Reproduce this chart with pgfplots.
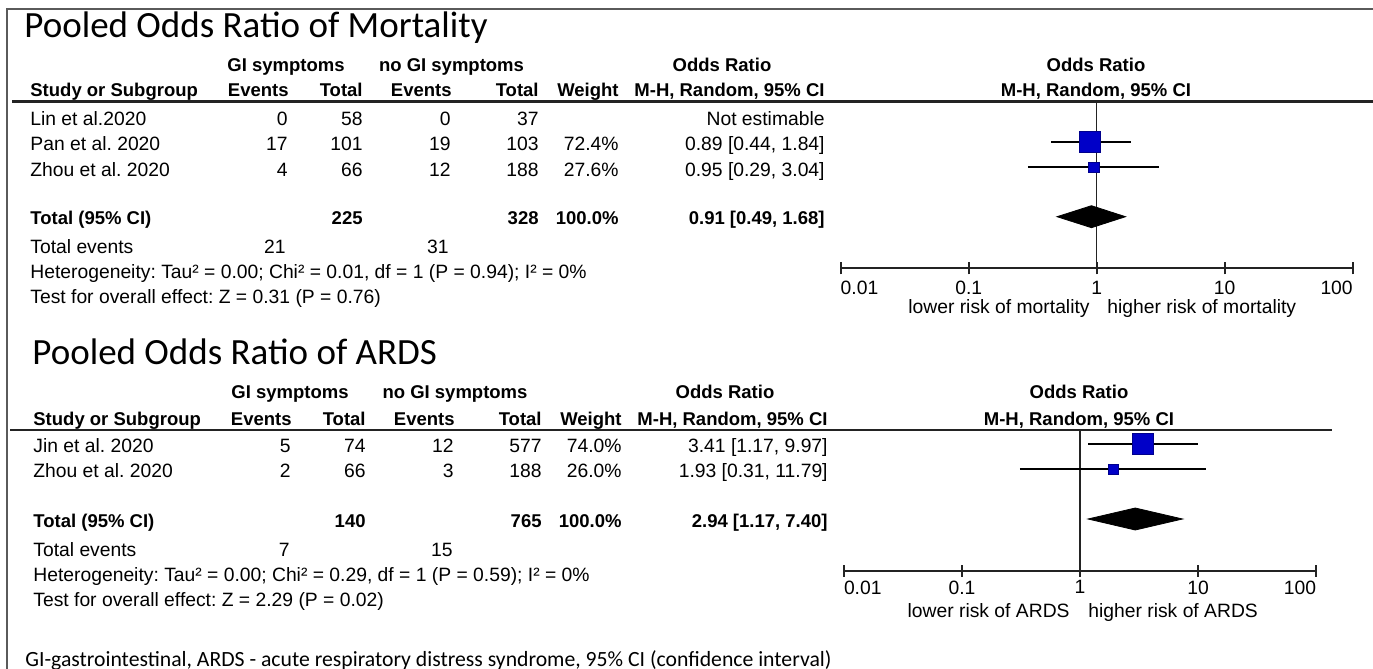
\documentclass[border=0pt]{standalone}
\usepackage{fontspec}
\setmainfont{Liberation Sans}
\newfontfamily\calibri{Carlito}
\usepackage{pgfplots}
\pgfplotsset{compat=1.18}
\definecolor{sqblue}{RGB}{0,0,200}
\definecolor{linegray}{RGB}{35,35,35}
\definecolor{framegray}{RGB}{90,90,90}
\frenchspacing
\newcommand{\tf}{\fontsize{9.65}{11}\selectfont}
\newcommand{\tb}{\fontsize{9.25}{11}\selectfont\bfseries}
\newcommand{\ttl}{\fontsize{18.5}{20}\calibri\selectfont}
\newcommand{\ftr}{\fontsize{10.85}{12}\calibri\selectfont}
\tikzset{
  tW/.style={inner sep=0pt, anchor=base west, font=\tf},
  tE/.style={inner sep=0pt, anchor=base east, font=\tf},
  tWB/.style={inner sep=0pt, anchor=base west, font=\tb},
  tEB/.style={inner sep=0pt, anchor=base east, font=\tb},
  tCB/.style={inner sep=0pt, anchor=base, font=\tb},
}
\begin{document}
\begin{tikzpicture}
\begin{scope}[x=0.5pt,y=0.5pt]
\useasboundingbox (0,0) rectangle (1373,-669);
% frame
\draw[line width=1.25pt, framegray] (7,-669) -- (7,-9) -- (1373,-9);

%================ TOP PANEL =================
\node[inner sep=0pt, anchor=base west, font=\ttl] at (24,-37.5) {Pooled Odds Ratio of Mortality};
\node[tCB] at (286,-71) {GI symptoms};
\node[tCB] at (451.5,-71) {no GI symptoms};
\node[tCB] at (722,-71) {Odds Ratio};
\node[tCB] at (1096,-71) {Odds Ratio};
\node[tWB] at (30,-97) {Study or Subgroup};
\node[tEB] at (289,-97) {Events};
\node[tEB] at (363,-97) {Total};
\node[tEB] at (452,-97) {Events};
\node[tEB] at (539,-97) {Total};
\node[tEB] at (619,-97) {Weight};
\node[tEB] at (825,-97) {M-H, Random, 95\% CI};
\node[tCB] at (1096,-97) {M-H, Random, 95\% CI};
\draw[line width=1.25pt, linegray] (12,-101.7) -- (1373,-101.7);

\node[tW] at (30,-125) {Lin et al.2020};
\node[tE] at (288,-125) {0};
\node[tE] at (363,-125) {58};
\node[tE] at (451,-125) {0};
\node[tE] at (539,-125) {37};
\node[tE] at (825,-125) {Not estimable};

\node[tW] at (30,-150.5) {Pan et al. 2020};
\node[tE] at (288,-150.5) {17};
\node[tE] at (363,-150.5) {101};
\node[tE] at (451,-150.5) {19};
\node[tE] at (539,-150.5) {103};
\node[tE] at (619,-150.5) {72.4\%};
\node[tE] at (825,-150.5) {0.89 [0.44, 1.84]};

\node[tW] at (30,-176) {Zhou et al. 2020};
\node[tE] at (288,-176) {4};
\node[tE] at (363,-176) {66};
\node[tE] at (451,-176) {12};
\node[tE] at (539,-176) {188};
\node[tE] at (619,-176) {27.6\%};
\node[tE] at (825,-176) {0.95 [0.29, 3.04]};

\node[tWB] at (30,-224) {Total (95\% CI)};
\node[tEB] at (363,-224) {225};
\node[tEB] at (539,-224) {328};
\node[tEB] at (619,-224) {100.0\%};
\node[tEB] at (825,-224) {0.91 [0.49, 1.68]};

\node[tW] at (30,-253.5) {Total events};
\node[tE] at (286,-253.5) {21};
\node[tE] at (449,-253.5) {31};
\node[tW] at (30,-278.5) {Heterogeneity: Tau² = 0.00; Chi² = 0.01, df = 1 (P = 0.94); I² = 0\%};
\node[tW] at (30,-303.5) {Test for overall effect: Z = 0.31 (P = 0.76)};

\node[tE] at (1090,-313) {lower risk of mortality};
\node[tW] at (1107,-313) {higher risk of mortality};

%================ BOTTOM PANEL =================
\node[inner sep=0pt, anchor=base west, font=\ttl] at (32,-364) {Pooled Odds Ratio of ARDS};
\node[tCB] at (290,-398.5) {GI symptoms};
\node[tCB] at (455,-398.5) {no GI symptoms};
\node[tCB] at (725,-398.5) {Odds Ratio};
\node[tCB] at (1079,-398.5) {Odds Ratio};
\node[tWB] at (33,-425) {Study or Subgroup};
\node[tEB] at (292,-425) {Events};
\node[tEB] at (366,-425) {Total};
\node[tEB] at (455,-425) {Events};
\node[tEB] at (542,-425) {Total};
\node[tEB] at (622,-425) {Weight};
\node[tEB] at (828,-425) {M-H, Random, 95\% CI};
\node[tCB] at (1079,-425) {M-H, Random, 95\% CI};
\draw[line width=1.25pt, linegray] (10,-430) -- (1332,-430);

\node[tW] at (33,-452) {Jin et al. 2020};
\node[tE] at (291,-452) {5};
\node[tE] at (366,-452) {74};
\node[tE] at (454,-452) {12};
\node[tE] at (542,-452) {577};
\node[tE] at (622,-452) {74.0\%};
\node[tE] at (828,-452) {3.41 [1.17, 9.97]};

\node[tW] at (33,-477.5) {Zhou et al. 2020};
\node[tE] at (291,-477.5) {2};
\node[tE] at (366,-477.5) {66};
\node[tE] at (454,-477.5) {3};
\node[tE] at (542,-477.5) {188};
\node[tE] at (622,-477.5) {26.0\%};
\node[tE] at (828,-477.5) {1.93 [0.31, 11.79]};

\node[tWB] at (33,-527) {Total (95\% CI)};
\node[tEB] at (366,-527) {140};
\node[tEB] at (542,-527) {765};
\node[tEB] at (622,-527) {100.0\%};
\node[tEB] at (828,-527) {2.94 [1.17, 7.40]};

\node[tW] at (33,-556.5) {Total events};
\node[tE] at (290,-556.5) {7};
\node[tE] at (453,-556.5) {15};
\node[tW] at (33,-581.5) {Heterogeneity: Tau² = 0.00; Chi² = 0.29, df = 1 (P = 0.59); I² = 0\%};
\node[tW] at (33,-606.5) {Test for overall effect: Z = 2.29 (P = 0.02)};

\node[tE] at (1070,-617) {lower risk of ARDS};
\node[tW] at (1088,-617) {higher risk of ARDS};

\node[inner sep=0pt, anchor=base west, font=\ftr] at (25,-666.5) {GI-gastrointestinal, ARDS - acute respiratory distress syndrome, 95\% CI (confidence interval)};
\end{scope}

%================ TOP FOREST AXIS =================
\begin{axis}[
  xmode=log, xmin=0.01, xmax=100,
  scale only axis, clip=false,
  axis x line=bottom, axis y line=none,
  x axis line style={-, line width=1.1pt, linegray},
  xtick={0.01,0.1,1,10,100},
  xticklabels={\rlap{0.01},0.1,1,10,\llap{100}},
  major tick length=6pt, tick align=center,
  major tick style={line width=1pt, linegray},
  minor tick style={draw=none},
  xticklabel style={font=\tf, inner sep=0pt, anchor=north, yshift=-3.3pt},
  at={(420.35pt,-134.15pt)}, anchor=south west,
  width=256pt, height=83.3pt,
  ymin=-268.3, ymax=-101.7,
]
\addplot[linegray, line width=0.65pt] coordinates {(1,-268.3) (1,-101.7)};
\addplot[black, line width=1pt] coordinates {(0.44,-141.7) (1.84,-141.7)};
\addplot[black, line width=1pt] coordinates {(0.29,-167.2) (3.04,-167.2)};
\addplot[only marks, mark=square*, mark size=5.25pt, mark options={fill=sqblue, draw=sqblue!70!black, line width=0.3pt}] coordinates {(0.89,-141.7)};
\addplot[only marks, mark=square*, mark size=2.6pt, mark options={fill=sqblue, draw=sqblue!70!black, line width=0.3pt}] coordinates {(0.95,-167.5)};
\addplot[fill=black, draw=black] coordinates {(0.49,-216.7) (0.91,-205.7) (1.68,-216.7) (0.91,-227.7)} -- cycle;
\end{axis}

%================ BOTTOM FOREST AXIS =================
\begin{axis}[
  xmode=log, xmin=0.01, xmax=100,
  scale only axis, clip=false,
  axis x line=bottom, axis y line=none,
  x axis line style={-, line width=1.1pt, linegray},
  xtick={0.01,0.1,1,10,100},
  xticklabels={\rlap{0.01},0.1,1,10,\llap{100}},
  major tick length=6pt, tick align=center,
  major tick style={line width=1pt, linegray},
  minor tick style={draw=none},
  xticklabel style={font=\tf, inner sep=0pt, anchor=north, yshift=-1.8pt},
  at={(422pt,-285.35pt)}, anchor=south west,
  width=236pt, height=70.35pt,
  ymin=-570.7, ymax=-430,
]
\addplot[linegray, line width=0.65pt] coordinates {(1,-570.7) (1,-430)};
\addplot[black, line width=1pt] coordinates {(1.17,-443.5) (9.97,-443.5)};
\addplot[black, line width=1pt] coordinates {(0.31,-469) (11.79,-469)};
\addplot[only marks, mark=square*, mark size=5.25pt, mark options={fill=sqblue, draw=sqblue!70!black, line width=0.3pt}] coordinates {(3.41,-444)};
\addplot[only marks, mark=square*, mark size=2.5pt, mark options={fill=sqblue, draw=sqblue!70!black, line width=0.3pt}] coordinates {(1.93,-469)};
\addplot[fill=black, draw=black] coordinates {(1.17,-519) (2.94,-508) (7.40,-519) (2.94,-530)} -- cycle;
\end{axis}
\end{tikzpicture}
\end{document}
